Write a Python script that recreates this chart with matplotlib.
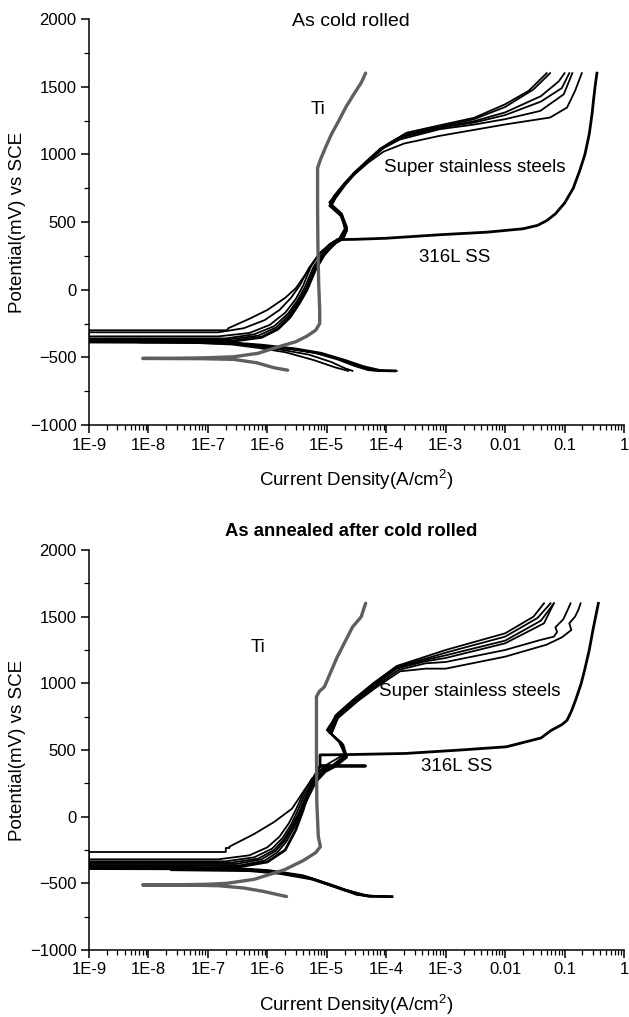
import matplotlib
matplotlib.use('Agg')
import matplotlib.pyplot as plt
from matplotlib.ticker import FixedLocator, LogLocator, MultipleLocator, NullFormatter

plt.rcParams['font.family'] = ['Liberation Sans', 'DejaVu Sans']
plt.rcParams['mathtext.default'] = 'regular'

# ---- axis ticks ----
x_ticks = [1e-9, 1e-8, 1e-7, 1e-6, 1e-5, 1e-4, 1e-3, 1e-2, 1e-1, 1]
x_tick_labels = ['1E-9', '1E-8', '1E-7', '1E-6', '1E-5', '1E-4', '1E-3', '0.01', '0.1', '1']
y_ticks = [-1000, -500, 0, 500, 1000, 1500, 2000]

# ================= As cold rolled =================
ti_cr_i = [2.2e-6, 1.3e-6, 6.6e-7, 2.7e-7, 8e-8, 2e-8, 8e-9, 3e-8, 1e-7, 2.7e-7, 7e-7, 1.65e-6,
           3e-6, 4.6e-6, 6.5e-6, 7.6e-6, 7.6e-6, 7.3e-6, 7.1e-6, 7.0e-6, 7.0e-6, 7.8e-6, 9.5e-6,
           1.2e-5, 1.6e-5, 2.1e-5, 2.9e-5, 3.8e-5, 4.5e-5]
ti_cr_e = [-595, -577, -540, -515, -510, -509, -508, -507, -503, -496, -470, -418,
           -385, -344, -300, -250, -150, 50, 300, 600, 900, 960, 1050,
           1150, 1250, 1350, 1450, 1530, 1600]

# super stainless steels, each: cathodic branch then anodic branch
ss1_cr_i = [2.3e-5, 1.4e-5, 6e-6, 2e-6, 7e-7, 2.5e-7, 5e-8, 1e-9,
            1e-9, 2.1e-7, 2.2e-7, 5e-7, 1e-6, 2e-6, 3e-6, 4.5e-6, 7e-6, 1.1e-5, 1.6e-5, 2e-5, 1.7e-5,
            1.1e-5, 1.4e-5, 2.2e-5, 3.5e-5, 6e-5, 1.1e-4, 2.2e-4, 8e-4, 3e-3, 0.01, 0.025, 0.05]
ss1_cr_e = [-600, -575, -520, -462, -430, -405, -392, -390,
            -300, -300, -285, -215, -150, -60, 10, 120, 250, 335, 375, 450, 570,
            645, 700, 800, 890, 980, 1080, 1160, 1215, 1270, 1370, 1470, 1600]

ss2_cr_i = [2.7e-5, 2e-5, 1.2e-5, 5e-6, 1.8e-6, 6e-7, 2e-7, 3e-8, 1e-9,
            1e-9, 1.5e-7, 4e-7, 9e-7, 1.6e-6, 2.5e-6, 3.5e-6, 5e-6, 7.5e-6, 1.2e-5, 1.7e-5, 2.1e-5,
            1.8e-5, 1.15e-5, 1.3e-5, 2e-5, 3.2e-5, 5.5e-5, 1e-4, 2e-4, 8e-4, 3e-3, 0.01, 0.03, 0.057]
ss2_cr_e = [-600, -580, -535, -480, -445, -415, -395, -386, -384,
            -315, -315, -285, -225, -150, -60, 30, 160, 265, 345, 380, 455,
            560, 635, 690, 790, 880, 965, 1070, 1145, 1205, 1260, 1350, 1480, 1600]

ss3_cr_i = [8.5e-5, 5e-5, 3e-5, 1.5e-5, 6e-6, 2e-6, 6e-7, 2e-7, 3e-8, 1e-9,
            1e-9, 1.5e-7, 5e-7, 1.1e-6, 2e-6, 3e-6, 4e-6, 5.5e-6, 8e-6, 1.3e-5, 1.8e-5, 2.2e-5,
            1.8e-5, 1.2e-5, 1.35e-5, 2e-5, 3e-5, 5e-5, 9e-5, 1.8e-4, 8e-4, 3e-3, 0.01, 0.04, 0.08, 0.1]
ss3_cr_e = [-600, -595, -565, -515, -465, -432, -408, -390, -378, -375,
            -345, -345, -320, -260, -170, -70, 30, 180, 280, 355, 385, 460,
            555, 625, 680, 780, 870, 950, 1050, 1130, 1200, 1245, 1310, 1430, 1540, 1600]

ss4_cr_i = [1.0e-4, 6e-5, 3.5e-5, 1.8e-5, 7e-6, 2.5e-6, 7e-7, 2e-7, 3e-8, 1e-9,
            1e-9, 2e-7, 6e-7, 1.3e-6, 2.2e-6, 3.2e-6, 4.3e-6, 6e-6, 8.5e-6, 1.3e-5, 1.8e-5, 2.1e-5,
            1.7e-5, 1.1e-5, 1.3e-5, 1.9e-5, 2.8e-5, 4.5e-5, 8e-5, 1.6e-4, 8e-4, 3e-3, 0.01, 0.04, 0.09, 0.12]
ss4_cr_e = [-600, -597, -568, -520, -468, -435, -410, -392, -382, -380,
            -360, -360, -330, -270, -180, -80, 20, 170, 270, 350, 380, 450,
            545, 620, 675, 775, 860, 945, 1045, 1120, 1195, 1235, 1290, 1390, 1490, 1600]

ss5_cr_i = [1.2e-4, 7e-5, 4e-5, 2e-5, 8e-6, 3e-6, 8e-7, 2.5e-7, 3e-8, 1e-9,
            1e-9, 2e-7, 7e-7, 1.4e-6, 2.3e-6, 3.3e-6, 4.5e-6, 6.2e-6, 9e-6, 1.4e-5, 1.9e-5, 2.2e-5,
            1.8e-5, 1.2e-5, 1.4e-5, 2.1e-5, 3e-5, 4.8e-5, 8.5e-5, 1.7e-4, 8e-4, 3e-3, 0.01, 0.039, 0.097, 0.135]
ss5_cr_e = [-600, -598, -572, -525, -472, -440, -412, -395, -386, -384,
            -370, -370, -340, -280, -190, -90, 10, 160, 265, 345, 378, 445,
            550, 625, 680, 780, 865, 950, 1040, 1110, 1186, 1220, 1260, 1321, 1444, 1600]

ss6_cr_i = [1.5e-4, 8e-5, 4.5e-5, 2.2e-5, 9e-6, 3e-6, 9e-7, 3e-7, 3e-8, 1e-9,
            1e-9, 2.5e-7, 8e-7, 1.5e-6, 2.4e-6, 3.4e-6, 4.6e-6, 6.4e-6, 9e-6, 1.4e-5, 1.9e-5, 2.2e-5,
            1.8e-5, 1.2e-5, 1.4e-5, 2e-5, 3e-5, 5e-5, 9e-5, 2e-4, 8e-4, 0.0107, 0.057, 0.11, 0.15, 0.195]
ss6_cr_e = [-600, -598, -575, -530, -478, -445, -418, -400, -390, -388,
            -380, -380, -350, -290, -200, -100, 0, 150, 260, 340, 375, 440,
            545, 620, 675, 770, 855, 940, 1020, 1080, 1137, 1223, 1272, 1346, 1469, 1600]

l316_cr_i = [1.4e-4, 8e-5, 4.2e-5, 2e-5, 8e-6, 3e-6, 8e-7, 2.5e-7, 7e-9,
             7e-9, 2.5e-7, 8e-7, 1.5e-6, 2.4e-6, 3.4e-6, 4.6e-6, 6.4e-6, 9e-6, 1.5e-5, 3e-5, 1e-4,
             8e-4, 5e-3, 0.02, 0.035, 0.05, 0.07, 0.1, 0.14, 0.18, 0.22, 0.26, 0.29, 0.31, 0.33, 0.35]
l316_cr_e = [-600, -598, -570, -522, -470, -438, -410, -393, -386,
             -384, -382, -352, -292, -205, -105, -5, 145, 255, 370, 372, 380,
             406, 425, 450, 475, 510, 560, 640, 750, 880, 1000, 1150, 1300, 1420, 1520, 1600]

# ================= As annealed after cold rolled =================
ti_an_i = [2.1e-6, 1.5e-6, 8.7e-7, 4e-7, 1.5e-7, 4e-8, 8e-9, 3e-8, 1e-7, 2.1e-7, 6e-7, 1.9e-6,
           4e-6, 6.5e-6, 7.8e-6, 7.2e-6, 6.8e-6, 6.7e-6, 6.7e-6, 7.5e-6, 9.1e-6, 1.5e-5, 2.7e-5,
           3.8e-5, 4.2e-5, 4.5e-5]
ti_an_e = [-599, -585, -561, -535, -518, -513, -512, -511, -507, -500, -470, -400,
           -330, -270, -225, -150, 100, 500, 900, 940, 973, 1198, 1421,
           1500, 1560, 1600]

ss1_an_i = [6e-5, 3.2e-5, 1.3e-5, 3.5e-6, 1e-6, 3e-7, 5e-8, 1e-9,
            1e-9, 2.0e-7, 2.0e-7, 2.3e-7, 2.3e-7, 6e-7, 1.3e-6, 2.6e-6, 4.2e-6, 6.5e-6, 1e-5, 2e-5,
            1.6e-5, 1e-5, 1.5e-5, 3.2e-5, 6e-5, 1.5e-4, 1e-3, 0.01, 0.03, 0.045]
ss1_an_e = [-600, -587, -525, -440, -405, -390, -382, -380,
            -265, -265, -235, -235, -225, -130, -40, 60, 200, 320, 390, 470,
            560, 650, 770, 900, 1000, 1130, 1250, 1375, 1500, 1600]

ss2_an_i = [8e-5, 3.5e-5, 1.4e-5, 4e-6, 1.1e-6, 3e-7, 5e-8, 1e-9,
            1e-9, 1.5e-7, 5e-7, 1e-6, 1.6e-6, 2.3e-6, 3e-6, 4e-6, 5.5e-6, 8e-6, 1.2e-5, 2e-5,
            1.7e-5, 1.05e-5, 1.4e-5, 3e-5, 6e-5, 1.5e-4, 4.6e-4, 1e-3, 0.01, 0.035, 0.058]
ss2_an_e = [-600, -585, -520, -440, -402, -385, -377, -375,
            -320, -320, -290, -230, -150, -50, 50, 170, 280, 350, 380, 460,
            560, 640, 760, 890, 990, 1125, 1185, 1230, 1350, 1490, 1600]

ss3_an_i = [1e-4, 4e-5, 1.5e-5, 4.5e-6, 1.2e-6, 3.5e-7, 5e-8, 1e-9,
            1e-9, 2e-7, 6e-7, 1.2e-6, 1.8e-6, 2.5e-6, 3.2e-6, 4.2e-6, 5.8e-6, 8.5e-6, 1.25e-5, 2e-5,
            1.75e-5, 1.1e-5, 1.45e-5, 3.1e-5, 6e-5, 1.5e-4, 4.6e-4, 1e-3, 0.01, 0.04, 0.066]
ss3_an_e = [-600, -590, -530, -450, -410, -392, -385, -383,
            -335, -335, -305, -240, -160, -60, 40, 160, 270, 345, 380, 455,
            555, 635, 755, 885, 985, 1115, 1175, 1210, 1320, 1470, 1600]

ss4_an_i = [1.1e-4, 4.2e-5, 1.6e-5, 5e-6, 1.3e-6, 4e-7, 5e-8, 1e-9,
            1e-9, 2.5e-7, 7e-7, 1.3e-6, 1.9e-6, 2.6e-6, 3.4e-6, 4.4e-6, 6e-6, 9e-6, 1.3e-5, 2.1e-5,
            1.8e-5, 1.1e-5, 1.5e-5, 3.2e-5, 6.2e-5, 1.5e-4, 4.6e-4, 1e-3, 0.01, 0.045, 0.066]
ss4_an_e = [-600, -592, -535, -455, -413, -395, -388, -386,
            -345, -345, -315, -250, -170, -70, 30, 150, 265, 340, 378, 450,
            550, 630, 750, 880, 980, 1110, 1165, 1190, 1300, 1450, 1600]

ss5_an_i = [1.2e-4, 4.5e-5, 1.7e-5, 5e-6, 1.4e-6, 4e-7, 5e-8, 1e-9,
            1e-9, 3e-7, 8e-7, 1.4e-6, 2e-6, 2.7e-6, 3.5e-6, 4.6e-6, 6.2e-6, 9.2e-6, 1.35e-5, 2.1e-5,
            1.8e-5, 1.15e-5, 1.5e-5, 3.3e-5, 6.5e-5, 1.6e-4, 4.6e-4, 1e-3, 0.01, 0.039, 0.066,
            0.075, 0.07, 0.095, 0.11, 0.126]
ss5_an_e = [-600, -594, -540, -460, -418, -398, -392, -390,
            -355, -355, -320, -255, -175, -75, 25, 145, 260, 338, 376, 448,
            545, 625, 745, 875, 975, 1100, 1150, 1160, 1250, 1325, 1350,
            1385, 1420, 1480, 1540, 1600]

ss6_an_i = [1.2e-4, 5e-5, 1.8e-5, 5.5e-6, 1.5e-6, 4.5e-7, 5e-8, 1e-9,
            1e-9, 3.5e-7, 9e-7, 1.5e-6, 2.1e-6, 2.8e-6, 3.6e-6, 4.8e-6, 6.5e-6, 9.5e-6, 1.4e-5, 2.2e-5,
            1.9e-5, 1.2e-5, 1.55e-5, 3.4e-5, 6.8e-5, 1.7e-4, 4.6e-4, 1e-3, 0.01, 0.05, 0.09,
            0.13, 0.12, 0.15, 0.17, 0.186]
ss6_an_e = [-600, -596, -545, -465, -420, -400, -395, -393,
            -365, -365, -330, -265, -185, -85, 15, 135, 255, 335, 374, 445,
            540, 620, 740, 870, 970, 1090, 1110, 1110, 1200, 1290, 1345,
            1400, 1450, 1500, 1550, 1600]

l316_an_i = [1.25e-4, 5e-5, 2e-5, 6e-6, 1.6e-6, 5e-7, 2.4e-8,
             2.4e-8, 3e-7, 1e-6, 2e-6, 3e-6, 4e-6, 5e-6, 6.5e-6, 7.7e-6, 4.5e-5, 7.7e-6, 7.7e-6,
             2e-5, 2.1e-4, 1.8e-3, 0.0105, 0.04, 0.06, 0.09, 0.11, 0.13, 0.153, 0.19, 0.22, 0.26,
             0.3, 0.34, 0.37]
l316_an_e = [-600, -597, -550, -470, -425, -405, -398,
             -385, -380, -340, -250, -100, 50, 200, 320, 378, 380, 382, 463,
             465, 474, 500, 524, 590, 648, 690, 723, 790, 873, 998, 1110, 1250,
             1400, 1520, 1600]

panels = [
    dict(rect=[0.1415, 0.5821, 0.8506, 0.3992],
         ti=(ti_cr_i, ti_cr_e),
         ss=[(ss1_cr_i, ss1_cr_e), (ss2_cr_i, ss2_cr_e), (ss3_cr_i, ss3_cr_e),
             (ss4_cr_i, ss4_cr_e), (ss5_cr_i, ss5_cr_e), (ss6_cr_i, ss6_cr_e)],
         l316=(l316_cr_i, l316_cr_e),
         title='As cold rolled', title_y=0.993, bold=False, title_fs=14,
         ti_lab=(7e-6, 1335), ss_lab=(3.1e-3, 903), l316_lab=(1.4e-3, 240)),
    dict(rect=[0.1415, 0.0659, 0.8506, 0.3933],
         ti=(ti_an_i, ti_an_e),
         ss=[(ss1_an_i, ss1_an_e), (ss2_an_i, ss2_an_e), (ss3_an_i, ss3_an_e),
             (ss4_an_i, ss4_an_e), (ss5_an_i, ss5_an_e), (ss6_an_i, ss6_an_e)],
         l316=(l316_an_i, l316_an_e),
         title='As annealed after cold rolled', title_y=1.047, bold=True, title_fs=13.3,
         ti_lab=(6.9e-7, 1265), ss_lab=(2.5e-3, 935), l316_lab=(1.55e-3, 373)),
]

fig = plt.figure(figsize=(6.29, 10.17), dpi=100)

for p in panels:
    ax = fig.add_axes(p['rect'])
    for ci, ce in p['ss']:
        ax.plot(ci, ce, color='black', lw=1.3, solid_joinstyle='round')
    ax.plot(p['l316'][0], p['l316'][1], color='black', lw=2.0, solid_joinstyle='round')
    ax.plot(p['ti'][0], p['ti'][1], color='#5f5f5f', lw=2.4, solid_capstyle='round')

    ax.set_xscale('log')
    ax.set_xlim(1e-9, 1)
    ax.set_ylim(-1000, 2000)
    ax.xaxis.set_major_locator(FixedLocator(x_ticks))
    ax.set_xticklabels(x_tick_labels)
    ax.xaxis.set_minor_locator(LogLocator(base=10, subs=range(2, 10), numticks=20))
    ax.xaxis.set_minor_formatter(NullFormatter())
    ax.set_yticks(y_ticks)
    ax.yaxis.set_minor_locator(MultipleLocator(250))
    ax.spines['top'].set_visible(False)
    ax.spines['right'].set_visible(False)
    for s in ('left', 'bottom'):
        ax.spines[s].set_linewidth(1.1)
    ax.tick_params(which='major', direction='out', length=6, width=1.1, labelsize=12, pad=3)
    ax.tick_params(which='minor', direction='out', length=3.5, width=0.9)
    ax.set_ylabel('Potential(mV) vs SCE', fontsize=13.5, labelpad=3)
    ax.set_xlabel('Current Density(A/cm$^2$)', fontsize=13.5, labelpad=11)

    ax.text(0.49, p['title_y'], p['title'], transform=ax.transAxes, ha='center', va='center',
            fontsize=p['title_fs'], fontweight='bold' if p['bold'] else 'normal')
    ax.text(*p['ti_lab'], 'Ti', ha='center', va='center', fontsize=13.5)
    ax.text(*p['ss_lab'], 'Super stainless steels', ha='center', va='center', fontsize=13.5)
    ax.text(*p['l316_lab'], '316L SS', ha='center', va='center', fontsize=13.5)

fig.savefig('out.png', dpi=100)
